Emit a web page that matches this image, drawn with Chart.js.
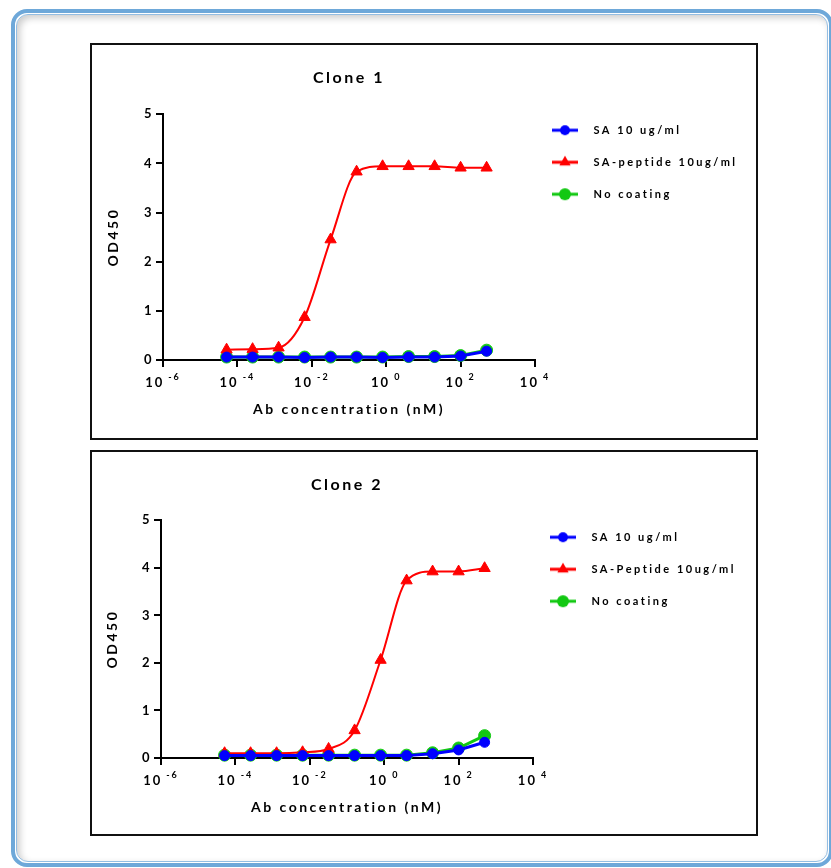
<!DOCTYPE html>
<html>
<head>
<meta charset="utf-8">
<script src="https://cdn.jsdelivr.net/npm/chart.js@4.4.1/dist/chart.umd.min.js"></script>
<style>
  body { margin: 0; background: #fff; width: 831px; height: 868px; overflow: hidden; position: relative; }
  .frame { position: absolute; left: 11px; top: 9px; width: 814px; height: 850px; border: 4px solid #6ea8d9; border-radius: 16px; }
  .frame .inner { position: absolute; left: 1px; top: 1px; right: 1px; bottom: 1px; border: 1px solid #93bde2; border-radius: 12px; box-shadow: inset 3px 3px 7px rgba(0,0,0,0.2); }
  .panel { position: absolute; left: 90px; width: 664px; border: 2px solid #111; background: #fff; }
  .panel canvas { display: block; }
  #p1 { top: 43px; height: 393px; }
  #p2 { top: 450px; height: 382px; }
</style>
</head>
<body>
<div class="frame"><div class="inner"></div></div>
<div class="panel" id="p1"><canvas id="clone1" width="664" height="393"></canvas></div>
<div class="panel" id="p2"><canvas id="clone2" width="664" height="382"></canvas></div>
<script>
// antibody concentration, 5-fold dilution series (nM)
const concNM = [0.0000512, 0.000256, 0.00128, 0.0064, 0.032, 0.16, 0.8, 4, 20, 100, 500];
const xTickValues = [1e-6, 1e-4, 1e-2, 1, 1e2, 1e4];

// Clone 1 OD450
const sa1   = [0.06, 0.06, 0.06, 0.05, 0.06, 0.06, 0.05, 0.06, 0.06, 0.08, 0.18];
const pep1  = [0.21, 0.22, 0.25, 0.87, 2.45, 3.83, 3.94, 3.94, 3.94, 3.91, 3.91];
const none1 = [0.06, 0.06, 0.06, 0.06, 0.06, 0.06, 0.06, 0.07, 0.07, 0.09, 0.20];
const names1 = ['SA 10 ug/ml', 'SA-peptide 10ug/ml', 'No coating'];

// Clone 2 OD450
const sa2   = [0.05, 0.05, 0.05, 0.05, 0.05, 0.05, 0.05, 0.05, 0.09, 0.17, 0.33];
const pep2  = [0.10, 0.10, 0.10, 0.12, 0.19, 0.58, 2.06, 3.73, 3.92, 3.92, 3.99];
const none2 = [0.06, 0.06, 0.06, 0.06, 0.06, 0.06, 0.06, 0.06, 0.11, 0.21, 0.47];
const names2 = ['SA 10 ug/ml', 'SA-Peptide 10ug/ml', 'No coating'];

const BLUE = '#0000ff', RED = '#ff0000', GREEN = '#12c812';
const FAMILY = 'Lato, "DejaVu Sans", sans-serif';

Chart.defaults.font.family = FAMILY;
Chart.defaults.font.weight = 'bold';
Chart.defaults.color = '#000';

// line + marker image for the legend
function swatch(color, style, r) {
  const c = document.createElement('canvas');
  c.width = 36; c.height = 16;
  const g = c.getContext('2d');
  g.strokeStyle = color; g.fillStyle = color; g.lineWidth = 3;
  g.beginPath(); g.moveTo(0, 8); g.lineTo(26, 8); g.stroke();
  g.beginPath();
  if (style === 'triangle') {
    g.moveTo(13, 8 - r);
    g.lineTo(13 + r * 0.866, 8 + r / 2);
    g.lineTo(13 - r * 0.866, 8 + r / 2);
    g.closePath();
  } else {
    g.arc(13, 8, r, 0, Math.PI * 2);
  }
  g.fill();
  return c;
}

function series(label, values, color, style, r, extra) {
  return Object.assign({
    label: label,
    data: values.map((v, i) => ({ x: concNM[i], y: v })),
    borderColor: color,
    backgroundColor: color,
    pointBackgroundColor: color,
    pointBorderColor: color,
    pointBorderWidth: 1,
    pointStyle: style,
    pointRadius: r,
    borderWidth: 3,
    tension: 0,
    clip: false,
    swatch: swatch(color, style, r)
  }, extra);
}

const spacing = {
  id: 'spacing',
  beforeLayout(chart) { chart.ctx.letterSpacing = '2.5px'; },
  beforeDraw(chart) { chart.ctx.letterSpacing = '2.5px'; }
};

// legend sits a little above the plot top
const legendShift = {
  id: 'legendShift',
  afterLayout(chart, args, opts) {
    const lg = chart.legend;
    lg.top -= opts.dy; lg.bottom -= opts.dy;
    lg.left -= opts.dx; lg.right -= opts.dx;
  }
};

// x tick labels as 10 with a raised exponent
const powerLabels = {
  id: 'powerLabels',
  afterDraw(chart) {
    const s = chart.scales.x, ctx = chart.ctx;
    const big = 'bold 13px ' + FAMILY, small = 'bold 9px ' + FAMILY;
    const gap = 4;
    ctx.save();
    ctx.fillStyle = '#000';
    ctx.letterSpacing = '2px';
    ctx.textAlign = 'left';
    ctx.textBaseline = 'alphabetic';
    const y = s.top + 26.5;
    s.ticks.forEach(t => {
      const exp = String(Math.round(Math.log10(t.value)));
      ctx.font = big;
      const wb = ctx.measureText('10').width;
      ctx.font = small;
      const we = ctx.measureText(exp).width;
      const left = s.getPixelForValue(t.value) - (wb + gap + we) / 2;
      ctx.font = big;
      ctx.fillText('10', left, y);
      ctx.font = small;
      ctx.fillText(exp, left + wb + gap, y - 6.5);
    });
    ctx.restore();
  }
};

function axisStyle() {
  return {
    grid: { drawOnChartArea: false, color: '#000', lineWidth: 2, tickLength: 7 },
    border: { color: '#000', width: 2 }
  };
}

function makeChart(id, title, names, sa, pep, none, lay) {
  const chart = new Chart(document.getElementById(id), {
    type: 'line',
    data: {
      datasets: [
        series(names[0], sa, BLUE, 'circle', 5),
        series(names[1], pep, RED, 'triangle', 6.5, { borderWidth: 2, cubicInterpolationMode: 'monotone' }),
        series(names[2], none, GREEN, 'circle', 6)
      ]
    },
    plugins: [spacing, legendShift, powerLabels],
    options: {
      responsive: false,
      animation: false,
      events: [],
      layout: { padding: lay.padding },
      scales: {
        x: Object.assign(axisStyle(), {
          type: 'logarithmic',
          min: 1e-6,
          max: 1e4,
          afterBuildTicks: s => { s.ticks = xTickValues.map(v => ({ value: v })); },
          afterFit: s => { s.height = 62; },
          ticks: { display: false },
          title: { display: true, text: 'Ab concentration (nM)', font: { size: 14, weight: 'bold' }, padding: { top: 0, bottom: 4 } }
        }),
        y: Object.assign(axisStyle(), {
          min: 0,
          max: 5,
          afterFit: s => { s.width = 62; },
          ticks: { stepSize: 1, padding: 2, font: { size: 13, weight: 'bold' } },
          title: { display: true, text: 'OD450', font: { size: 14, weight: 'bold' }, padding: { top: lay.yTitle, bottom: 0 } }
        })
      },
      plugins: {
        title: { display: true, text: title, fullSize: false, font: { size: 16, weight: 'bold' }, padding: lay.titlePad },
        legend: {
          position: 'right',
          align: 'start',
          fullSize: false,
          maxWidth: 260,
          labels: {
            usePointStyle: true,
            pointStyleWidth: 36,
            padding: 21,
            font: { size: 11, weight: 'bold' },
            generateLabels: chart => chart.data.datasets.map((ds, i) => ({
              text: ds.label, pointStyle: ds.swatch, datasetIndex: i, hidden: false,
              fontColor: '#000', fillStyle: ds.borderColor, strokeStyle: ds.borderColor, lineWidth: 0
            }))
          }
        },
        tooltip: { enabled: false },
        legendShift: { dx: 4, dy: lay.shift }
      }
    }
  });
  // pull the plot's right edge to where it belongs beside the legend
  chart.options.layout.padding.right += chart.chartArea.right - lay.plotRight;
  chart.update();
  return chart;
}

makeChart('clone1', 'Clone 1', names1, sa1, pep1, none1, {
  padding: { left: 9, right: 0, top: 0, bottom: 16 },
  titlePad: { top: 23, bottom: 27 },
  yTitle: 4,
  shift: 10.5,
  plotRight: 443
});

makeChart('clone2', 'Clone 2', names2, sa2, pep2, none2, {
  padding: { left: 7, right: 0, top: 0, bottom: 14 },
  titlePad: { top: 23, bottom: 26 },
  yTitle: 5.5,
  shift: 9.5,
  plotRight: 441
});
</script>
</body>
</html>
